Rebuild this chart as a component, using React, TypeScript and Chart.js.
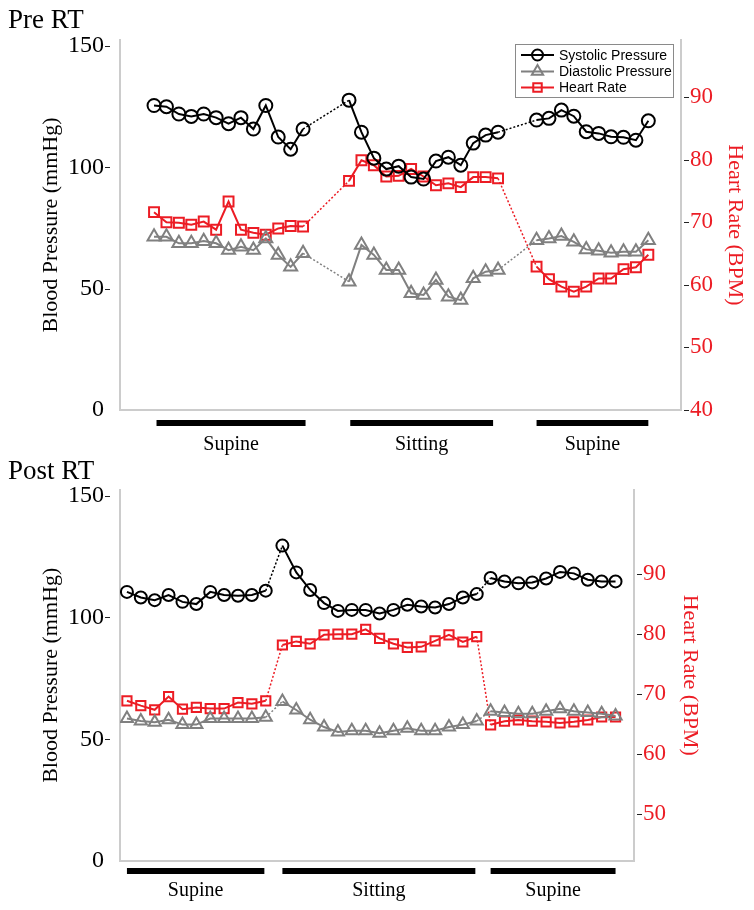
import React, { useEffect, useRef } from 'react';
import { Chart, registerables } from 'chart.js';

Chart.register(...registerables);

const SERIF = '"Liberation Serif", "Times New Roman", Times, serif';
const SANS = '"Liberation Sans", Arial, Helvetica, sans-serif';
const INK = '#000000';
const DIA_GREY = '#808080';
const HR_RED = '#ec1c24';
const AXIS_GREY = '#cccccc';

// ---------- shared labels ----------
const seriesNames = ['Systolic Pressure', 'Diastolic Pressure', 'Heart Rate'];
const postureNames = ['Supine', 'Sitting', 'Supine'];
const bpTicks = [0, 50, 100, 150];
const preHrTicks = [40, 50, 60, 70, 80, 90];
const postHrTicks = [50, 60, 70, 80, 90];

// ---------- Pre RT ----------
const preTime = [
  0, 1, 2, 3, 4, 5, 6, 7, 8, 9, 10, 11, 12,
  15.7, 16.7, 17.7, 18.7, 19.7, 20.7, 21.7, 22.7, 23.7, 24.7, 25.7, 26.7, 27.7,
  30.8, 31.8, 32.8, 33.8, 34.8, 35.8, 36.8, 37.8, 38.8, 39.8,
];
const preSystolic = [
  125.5, 125, 122, 121, 122, 120.5, 118, 120.5, 115.8, 125.5, 112.5, 107.5, 115.8,
  127.7, 114.5, 103.8, 99.3, 100.5, 96.0, 95.2, 102.6, 104.2, 100.9, 110.0, 113.3, 114.5,
  119.5, 120.2, 123.6, 121.1, 114.7, 114.0, 112.6, 112.4, 111.2, 119.2,
];
const preDiastolic = [
  71.4, 71.4, 68.7, 68.7, 69.6, 68.7, 65.9, 67.3, 65.9, 70.7, 63.9, 59.0, 64.6,
  52.9, 68.0, 63.9, 57.7, 57.7, 48.1, 47.4, 53.6, 46.7, 45.3, 54.3, 57.0, 57.7,
  70.0, 70.7, 71.7, 69.3, 66.2, 65.6, 64.8, 65.2, 65.2, 70.0,
];
const preHeartRate = [
  71.6, 70.0, 69.9, 69.6, 70.1, 68.8, 73.3, 68.8, 68.3, 68.0, 69.0, 69.4, 69.3,
  76.6, 79.9, 79.1, 77.3, 77.4, 78.5, 77.3, 75.9, 76.2, 75.6, 77.2, 77.2, 77.0,
  62.9, 60.9, 59.7, 58.9, 59.7, 61.0, 61.0, 62.5, 62.8, 64.8,
];
const preBreaks = [13, 26];
const prePostureFrom = [0.2, 15.8, 30.8];
const prePostureTo = [12.2, 27.3, 39.8];

// ---------- Post RT ----------
const postTime = [
  0, 1, 2, 3, 4, 5, 6, 7, 8, 9, 10,
  11.2, 12.2, 13.2, 14.2, 15.2, 16.2, 17.2, 18.2, 19.2, 20.2, 21.2, 22.2, 23.2, 24.2, 25.2,
  26.2, 27.2, 28.2, 29.2, 30.2, 31.2, 32.2, 33.2, 34.2, 35.2,
];
const postSystolic = [
  110.5, 108.2, 107.1, 109.2, 106.4, 105.5, 110.5, 109.2, 108.9, 109.2, 111.0,
  129.5, 118.5, 111.3, 105.9, 102.7, 103.1, 103.1, 101.6, 103.1, 105.2, 104.5, 104.1, 105.5, 108.2, 109.6,
  116.2, 114.8, 114.0, 114.4, 116.0, 118.7, 118.1, 115.5, 114.8, 114.8,
];
const postDiastolic = [
  58.5, 57.5, 57, 58, 56, 56, 58.5, 58.5, 58.5, 58.5, 59,
  65.5, 62, 58, 55, 53, 53.5, 53.5, 52.5, 53.5, 54.5, 53.5, 53.5, 55, 56, 57.5,
  61.5, 61, 60.5, 60.5, 61.5, 62.5, 61.5, 61, 60.5, 59.5,
];
const postHeartRate = [
  68.9, 68.1, 67.4, 69.6, 67.5, 67.8, 67.6, 67.6, 68.6, 68.4, 68.9,
  78.2, 78.8, 78.4, 79.9, 80.0, 80.0, 80.8, 79.3, 78.4, 77.8, 77.9, 78.9, 79.9, 78.7, 79.6,
  64.9, 65.5, 65.7, 65.5, 65.4, 65.2, 65.4, 65.7, 66.2, 66.2,
];
const postBreaks = [11, 26];
const postPostureFrom = [0, 11.2, 26.2];
const postPostureTo = [9.9, 25.1, 35.2];

// ---------- panel layout (not data) ----------
const W = 754;
const panels = [
  {
    key: 'pre', title: 'Pre RT', top: 0, height: 455,
    plotTop: 40, plotBottom: 410, plotRight: 681,
    xMin: -2.74, xMax: 42.43, bpMax: 152.5, hrMin: 40, hrMax: 99.1,
    time: preTime, sys: preSystolic, dia: preDiastolic, hr: preHeartRate,
    breaks: preBreaks, from: prePostureFrom, to: prePostureTo, hrTicks: preHrTicks,
    titleY: 21, barY: 13, labelY: 35, leftPad: 38, rightPad: 6, legend: true,
    rCircle: 6.5, rTri: 7.5, rRect: 7,
  },
  {
    key: 'post', title: 'Post RT', top: 455, height: 455,
    plotTop: 34.6, plotBottom: 406, plotRight: 634,
    xMin: -0.5, xMax: 36.53, bpMax: 152.5, hrMin: 42.2, hrMax: 104.1,
    time: postTime, sys: postSystolic, dia: postDiastolic, hr: postHeartRate,
    breaks: postBreaks, from: postPostureFrom, to: postPostureTo, hrTicks: postHrTicks,
    titleY: 17, barY: 10, labelY: 30, leftPad: 38, rightPad: 51, legend: false,
    rCircle: 6, rTri: 7, rRect: 6.5,
  },
];

function drawMarker(ctx: CanvasRenderingContext2D, style: string, x: number, y: number, r: number) {
  ctx.beginPath();
  if (style === 'circle') {
    ctx.arc(x, y, r, 0, Math.PI * 2);
  } else if (style === 'triangle') {
    for (let k = 0; k < 3; k++) {
      const a = (k * 2 * Math.PI) / 3;
      const px = x + Math.sin(a) * r;
      const py = y - Math.cos(a) * r;
      if (k === 0) ctx.moveTo(px, py); else ctx.lineTo(px, py);
    }
    ctx.closePath();
  } else {
    const s = r * Math.SQRT1_2;
    ctx.rect(x - s, y - s, 2 * s, 2 * s);
  }
  ctx.stroke();
}

function buildConfig(p: any) {
  const mk = (label: string, values: number[], axis: string, color: string, style: string, r: number) => ({
    label,
    data: p.time.map((t: number, i: number) => ({ x: t, y: values[i] })),
    yAxisID: axis,
    borderColor: color,
    backgroundColor: color,
    borderWidth: 2,
    pointStyle: style,
    pointRadius: r,
    pointHoverRadius: r,
    pointBorderWidth: 2,
    pointBorderColor: color,
    pointBackgroundColor: 'rgba(255,255,255,0)',
    tension: 0,
    fill: false,
    segment: {
      borderDash: (c: any) => (p.breaks.includes(c.p1DataIndex) ? [2, 2] : undefined),
      borderWidth: (c: any) => (p.breaks.includes(c.p1DataIndex) ? 1.5 : undefined),
    },
  });

  const styles = [
    { style: 'circle', color: INK, r: p.rCircle },
    { style: 'triangle', color: DIA_GREY, r: p.rTri },
    { style: 'rect', color: HR_RED, r: p.rRect },
  ];

  const decor = {
    id: 'decor' + p.key,
    afterDraw(chart: any) {
      const { ctx, chartArea, scales } = chart;
      ctx.save();
      // panel title
      ctx.fillStyle = INK;
      ctx.textBaseline = 'middle';
      ctx.textAlign = 'left';
      ctx.font = `27px ${SERIF}`;
      ctx.fillText(p.title, 8, p.titleY);

      // tick dashes
      ctx.lineWidth = 1;
      ctx.strokeStyle = '#222';
      bpTicks.forEach((v) => {
        if (v === 0) return;
        const y = Math.round(scales.yBp.getPixelForValue(v)) + 0.5;
        ctx.beginPath();
        ctx.moveTo(chartArea.left - 15, y);
        ctx.lineTo(chartArea.left - 10, y);
        ctx.stroke();
      });
      p.hrTicks.forEach((v: number) => {
        const y = Math.round(scales.yHr.getPixelForValue(v)) + 0.5;
        ctx.beginPath();
        ctx.moveTo(chartArea.right + 3, y);
        ctx.lineTo(chartArea.right + 8, y);
        ctx.stroke();
      });

      // posture bars
      ctx.fillStyle = INK;
      ctx.font = `20px ${SERIF}`;
      ctx.textAlign = 'center';
      postureNames.forEach((name, i) => {
        const x0 = scales.x.getPixelForValue(p.from[i]);
        const x1 = scales.x.getPixelForValue(p.to[i]);
        ctx.fillRect(x0, chartArea.bottom + p.barY - 3, x1 - x0, 6);
        ctx.fillText(name, (x0 + x1) / 2, chartArea.bottom + p.labelY);
      });

      // legend
      if (p.legend) {
        const bw = 158, bh = 53;
        const lx = chartArea.right - 8 - bw;
        const ly = chartArea.top + 4;
        ctx.fillStyle = '#ffffff';
        ctx.fillRect(lx, ly, bw, bh);
        ctx.strokeStyle = '#8a8a8a';
        ctx.lineWidth = 1;
        ctx.strokeRect(Math.round(lx) + 0.5, Math.round(ly) + 0.5, bw, bh);
        const rows = [11, 27.5, 43.5];
        ctx.font = `14px ${SANS}`;
        ctx.textAlign = 'left';
        seriesNames.forEach((name, i) => {
          const y = ly + rows[i];
          const st = styles[i];
          ctx.strokeStyle = st.color;
          ctx.lineWidth = 2;
          ctx.beginPath();
          ctx.moveTo(lx + 6, y);
          ctx.lineTo(lx + 39, y);
          ctx.stroke();
          drawMarker(ctx, st.style, lx + 22.5, y, st.r - 1);
          ctx.fillStyle = INK;
          ctx.fillText(name, lx + 44, y + 1);
        });
      }
      ctx.restore();
    },
  };

  return {
    type: 'line' as const,
    data: {
      datasets: [
        mk(seriesNames[0], p.sys, 'yBp', INK, 'circle', p.rCircle),
        mk(seriesNames[1], p.dia, 'yBp', DIA_GREY, 'triangle', p.rTri),
        mk(seriesNames[2], p.hr, 'yHr', HR_RED, 'rect', p.rRect),
      ],
    },
    options: {
      responsive: false,
      animation: false,
      devicePixelRatio: 1,
      events: [],
      layout: { padding: { top: p.plotTop, bottom: p.height - p.plotBottom, left: 0, right: 0 } },
      plugins: {
        legend: { display: false },
        tooltip: { enabled: false },
        title: { display: false },
      },
      scales: {
        x: {
          type: 'linear',
          min: p.xMin,
          max: p.xMax,
          grid: { display: false, drawTicks: false },
          ticks: { display: false },
          border: { display: true, color: AXIS_GREY, width: 2 },
          afterFit: (s: any) => { s.height = 0; },
        },
        yBp: {
          type: 'linear',
          position: 'left',
          min: 0,
          max: p.bpMax,
          afterBuildTicks: (s: any) => { s.ticks = bpTicks.map((v) => ({ value: v })); },
          afterFit: (s: any) => { s.width = 120; },
          grid: { drawOnChartArea: false, drawTicks: false },
          border: { display: true, color: AXIS_GREY, width: 2 },
          ticks: { color: INK, padding: 16, font: { family: SERIF, size: 24 } },
          title: {
            display: true,
            text: 'Blood Pressure (mmHg)',
            color: INK,
            font: { family: SERIF, size: 22 },
            padding: { top: p.leftPad, bottom: 0 },
          },
        },
        yHr: {
          type: 'linear',
          position: 'right',
          min: p.hrMin,
          max: p.hrMax,
          afterBuildTicks: (s: any) => { s.ticks = p.hrTicks.map((v: number) => ({ value: v })); },
          afterFit: (s: any) => { s.width = W - p.plotRight; },
          grid: { drawOnChartArea: false, drawTicks: false },
          border: { display: true, color: AXIS_GREY, width: 2 },
          ticks: { color: HR_RED, padding: 9, font: { family: SERIF, size: 23 } },
          title: {
            display: true,
            text: 'Heart Rate (BPM)',
            color: HR_RED,
            font: { family: SERIF, size: 22 },
            padding: { top: p.rightPad, bottom: 0 },
          },
        },
      },
    },
    plugins: [decor],
  };
}

function Panel({ spec }: { spec: any }) {
  const ref = useRef<HTMLCanvasElement>(null);
  useEffect(() => {
    if (!ref.current) return;
    const chart = new Chart(ref.current, buildConfig(spec) as any);
    return () => chart.destroy();
  }, [spec]);
  return (
    <canvas
      ref={ref}
      width={W}
      height={spec.height}
      style={{ position: 'absolute', left: 0, top: spec.top, width: W, height: spec.height, display: 'block' }}
    />
  );
}

export default function App() {
  return (
    <div style={{ position: 'absolute', left: 0, top: 0, width: W, height: 910, overflow: 'hidden', background: '#ffffff' }}>
      {panels.map((p) => (
        <Panel key={p.key} spec={p} />
      ))}
    </div>
  );
}
